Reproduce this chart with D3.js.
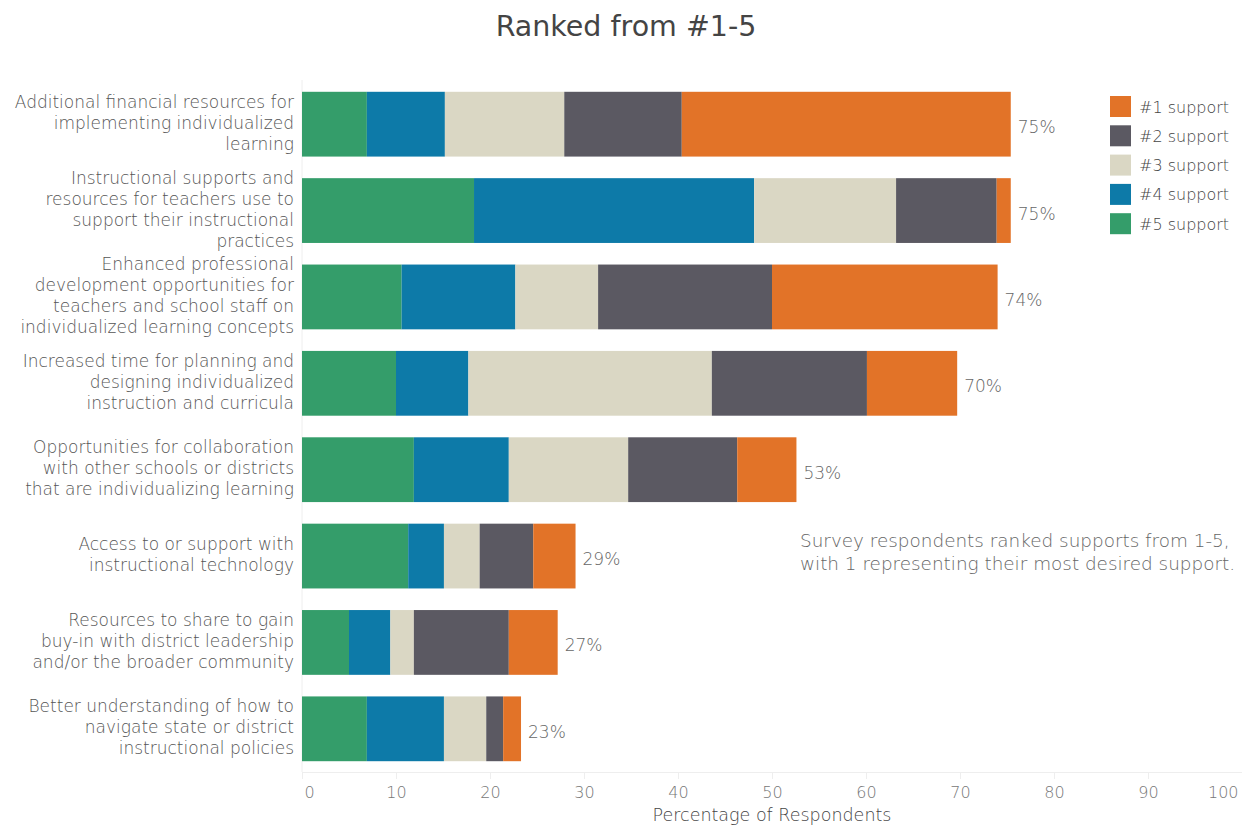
<!DOCTYPE html>
<html>
<head>
<meta charset="utf-8">
<script src="https://cdn.jsdelivr.net/npm/d3@7"></script>
<style>
  html, body { margin: 0; padding: 0; background: #fff; }
  svg { display: block; }
  text { font-family: "DejaVu Sans", "Open Sans", sans-serif; }
</style>
</head>
<body>
<svg id="chart" width="1242" height="825"></svg>
<script>
// ---- Data ----
const categories = [
  "Additional financial resources for implementing individualized learning",
  "Instructional supports and resources for teachers use to support their instructional practices",
  "Enhanced professional development opportunities for teachers and school staff on individualized learning concepts",
  "Increased time for planning and designing individualized instruction and curricula",
  "Opportunities for collaboration with other schools or districts that are individualizing learning",
  "Access to or support with instructional technology",
  "Resources to share to gain buy-in with district leadership and/or the broader community",
  "Better understanding of how to navigate state or district instructional policies"
];
const categoryLines = [
  ["Additional financial resources for", "implementing individualized", "learning"],
  ["Instructional supports and", "resources for teachers use to", "support their instructional", "practices"],
  ["Enhanced professional", "development opportunities for", "teachers and school staff on", "individualized learning concepts"],
  ["Increased time for planning and", "designing individualized", "instruction and curricula"],
  ["Opportunities for collaboration", "with other schools or districts", "that are individualizing learning"],
  ["Access to or support with", "instructional technology"],
  ["Resources to share to gain", "buy-in with district leadership", "and/or the broader community"],
  ["Better understanding of how to", "navigate state or district", "instructional policies"]
];
const rank5 = [6.9, 18.3, 10.6, 10.0, 11.9, 11.3, 5.0, 6.9];
const rank4 = [8.3, 29.8, 12.1, 7.7, 10.1, 3.8, 4.4, 8.2];
const rank3 = [12.7, 15.1, 8.8, 25.9, 12.7, 3.8, 2.5, 4.5];
const rank2 = [12.5, 10.7, 18.5, 16.5, 11.6, 5.7, 10.1, 1.8];
const rank1 = [35.0, 1.5, 24.0, 9.6, 6.3, 4.5, 5.2, 1.9];
const totalLabels = ["75%", "75%", "74%", "70%", "53%", "29%", "27%", "23%"];
const seriesKeys = ["#5 support", "#4 support", "#3 support", "#2 support", "#1 support"];
const legendKeys = ["#1 support", "#2 support", "#3 support", "#4 support", "#5 support"];
const seriesColors = ["#349D6A", "#0D7AA8", "#DAD7C4", "#5B5962", "#E27328"];
const xTicks = [0, 10, 20, 30, 40, 50, 60, 70, 80, 90, 100];
const titleText = "Ranked from #1-5";
const xAxisTitle = "Percentage of Respondents";
const noteLines = ["Survey respondents ranked supports from 1-5,", "with 1 representing their most desired support."];

// ---- Build table ----
const seriesArrays = [rank5, rank4, rank3, rank2, rank1];
const rows = categories.map((c, i) => {
  const r = { category: c };
  seriesKeys.forEach((k, j) => r[k] = seriesArrays[j][i]);
  return r;
});
const stacked = d3.stack().keys(seriesKeys)(rows);
const color = d3.scaleOrdinal().domain(seriesKeys).range(seriesColors);

const svg = d3.select("#chart");
const x = d3.scaleLinear().domain([0, 100]).range([302, 1242]);
const y = d3.scaleBand().domain(categories).range([81, 772]).paddingInner(0.25).paddingOuter(0.125);

const FW = 200;

// Title
svg.append("text")
  .attr("x", 626).attr("y", 26)
  .attr("text-anchor", "middle").attr("dominant-baseline", "central")
  .style("font-size", "28.5px").style("font-weight", 400).style("fill", "#444")
  .text(titleText);

// Left axis line
svg.append("line")
  .attr("x1", x(0)).attr("x2", x(0))
  .attr("y1", 80).attr("y2", 772)
  .attr("stroke", "#eeeeee").attr("stroke-width", 1);

// Bars
svg.append("g").selectAll("g").data(stacked).join("g")
  .attr("fill", d => color(d.key))
  .selectAll("rect").data(d => d).join("rect")
  .attr("x", d => x(d[0]))
  .attr("y", d => y(d.data.category))
  .attr("width", d => x(d[1]) - x(d[0]))
  .attr("height", y.bandwidth());

// Total labels
const last = stacked[stacked.length - 1];
svg.append("g").selectAll("text").data(last).join("text")
  .attr("x", d => x(d[1]) + 7)
  .attr("y", d => y(d.data.category) + y.bandwidth() / 2 + 3)
  .attr("dominant-baseline", "central")
  .style("font-size", "17px").style("font-weight", FW).style("fill", "#666")
  .text((d, i) => totalLabels[i]);

// Category labels
const catG = svg.append("g");
categories.forEach((c, i) => {
  const lines = categoryLines[i];
  const cy = y(c) + y.bandwidth() / 2 - 1.5;
  const t = catG.append("text")
    .attr("text-anchor", "end")
    .style("font-size", "17px").style("font-weight", FW).style("fill", "#555");
  lines.forEach((ln, k) => {
    t.append("tspan")
      .attr("x", 294)
      .attr("y", cy + (k - (lines.length - 1) / 2) * 21)
      .attr("dominant-baseline", "central")
      .text(ln);
  });
});

// X axis
const xAxis = d3.axisBottom(x).tickValues(xTicks).tickSize(7).tickPadding(8).tickFormat(d3.format("d"));
const gx = svg.append("g").attr("transform", "translate(0,772)").call(xAxis);
gx.select(".domain").attr("stroke", "#eeeeee");
gx.selectAll(".tick line").attr("stroke", "#eeeeee");
gx.selectAll(".tick text")
  .style("font-family", "'DejaVu Sans', sans-serif")
  .style("font-size", "16px").style("font-weight", FW).attr("fill", "#777")
  .attr("text-anchor", (d, i) => i === 0 ? "start" : (i === xTicks.length - 1 ? "end" : "middle"))
  .attr("dx", (d, i) => i === 0 ? 2 : (i === xTicks.length - 1 ? -4 : 0));

// X axis title
svg.append("text")
  .attr("x", 772).attr("y", 815)
  .attr("text-anchor", "middle").attr("dominant-baseline", "central")
  .style("font-size", "17.5px").style("font-weight", FW).style("fill", "#444")
  .text(xAxisTitle);

// Legend
const lg = svg.append("g");
legendKeys.forEach((k, i) => {
  const yy = 96 + i * 29.3;
  lg.append("rect").attr("x", 1110).attr("y", yy).attr("width", 21).attr("height", 21).attr("fill", color(k));
  lg.append("text").attr("x", 1139).attr("y", yy + 11).attr("dominant-baseline", "central")
    .style("font-size", "16px").style("font-weight", FW).style("fill", "#444").text(k);
});

// Note
const note = svg.append("text").style("font-size", "18.4px").style("font-weight", FW).style("fill", "#666");
noteLines.forEach((ln, k) => {
  note.append("tspan").attr("x", 800).attr("y", 540 + k * 23).attr("dominant-baseline", "central").text(ln);
});
</script>
</body>
</html>
